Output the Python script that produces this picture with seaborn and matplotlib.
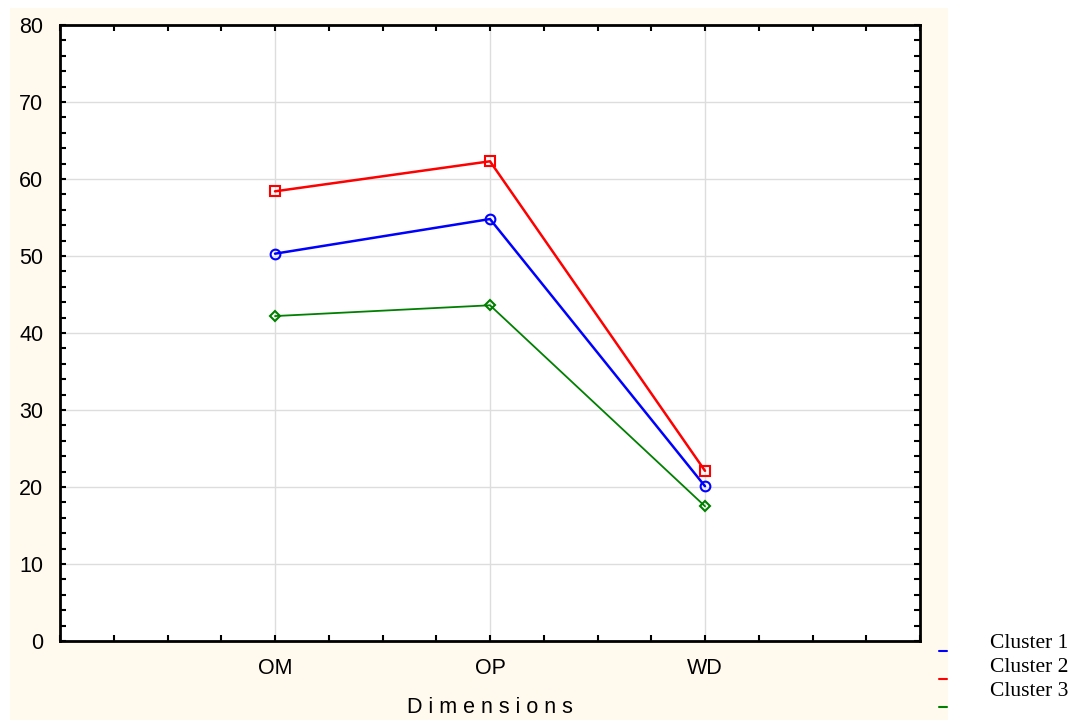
import matplotlib.pyplot as plt
import matplotlib.ticker as mticker
from matplotlib.patches import Rectangle
from matplotlib.lines import Line2D
import seaborn as sns
import pandas as pd

# values
dimensions = ["OM", "OP", "WD"]
cluster_1 = [50.3, 54.8, 20.1]
cluster_2 = [58.4, 62.3, 22.1]
cluster_3 = [42.2, 43.6, 17.5]
cluster_names = ["Cluster 1", "Cluster 2", "Cluster 3"]

df = pd.DataFrame({
    "Dimension": dimensions * 3,
    "Value": cluster_1 + cluster_2 + cluster_3,
    "Cluster": [n for n in cluster_names for _ in dimensions],
})

sns.set_style("ticks")
plt.rcParams["font.family"] = ["Liberation Sans", "DejaVu Sans"]
plt.rcParams["text.color"] = "black"
plt.rcParams["axes.labelcolor"] = "black"
plt.rcParams["xtick.labelcolor"] = "black"
plt.rcParams["ytick.labelcolor"] = "black"

colors = {"Cluster 1": "#0000ff", "Cluster 2": "#ff0000", "Cluster 3": "#008000"}
markers = {"Cluster 1": "o", "Cluster 2": "s", "Cluster 3": "D"}

fig = plt.figure(figsize=(10.74, 7.2), dpi=100, facecolor="white")
# cream panel behind the chart
fig.patches.append(Rectangle((10 / 1074, 0), 938 / 1074, 712 / 720,
                             transform=fig.transFigure, facecolor="#fff9ee",
                             edgecolor="none", zorder=-10))
ax = fig.add_axes([60 / 1074, 1 - 641 / 720, 860 / 1074, 616 / 720])
ax.set_facecolor("white")

sns.lineplot(data=df, x="Dimension", y="Value", hue="Cluster", style="Cluster",
             palette=colors, markers=markers, dashes=False, ax=ax, legend=False,
             markerfacecolor="none", markeredgewidth=1.5)

for line, name in zip(ax.get_lines(), cluster_names):
    line.set_linewidth(1.8 if name != "Cluster 3" else 1.3)
    line.set_markeredgecolor(colors[name])
    line.set_markersize(7 if name != "Cluster 3" else 5)

ax.set_xlim(-1, 3)
ax.set_ylim(0, 80)
ax.set_xticks([0, 1, 2])
ax.set_xticklabels(dimensions)
ax.xaxis.set_minor_locator(mticker.MultipleLocator(0.25))
ax.yaxis.set_major_locator(mticker.MultipleLocator(10))
ax.yaxis.set_minor_locator(mticker.MultipleLocator(2))
ax.grid(True, which="major", color="#dddddd", linewidth=1)
ax.set_axisbelow(True)

for s in ax.spines.values():
    s.set_linewidth(2)
    s.set_color("black")

ax.tick_params(which="both", direction="in", top=True, right=True,
               width=1.5, color="black")
ax.tick_params(which="major", length=4, labelsize=15.5, pad=12)
ax.tick_params(which="minor", length=4)

ax.set_xlabel("D i m e n s i o n s", fontsize=15.5, labelpad=13)
ax.set_ylabel("")

# legend outside the cream panel
for i, name in enumerate(cluster_names):
    fig.text(990 / 1074, 1 - (643 + 24.5 * i) / 720, name, fontsize=15.5,
             family=["Liberation Serif", "DejaVu Serif"], va="center", ha="left")
    y = 1 - (651 + 28 * i) / 720
    fig.lines.append(Line2D([939 / 1074, 947 / 1074], [y, y], color=colors[name],
                            linewidth=1.5, transform=fig.transFigure))

fig.savefig("out.png", dpi=100, facecolor="white")
